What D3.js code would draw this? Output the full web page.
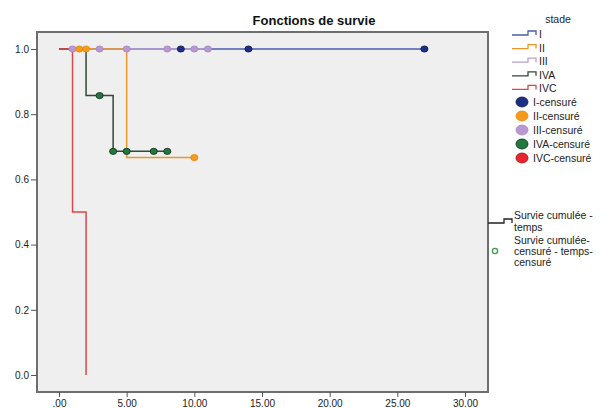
<!DOCTYPE html>
<html>
<head>
<meta charset="utf-8">
<script src="https://cdn.jsdelivr.net/npm/d3@7"></script>
<style>
  body { margin: 0; background: #fff; }
  svg { font-family: "Liberation Sans", Arial, sans-serif; }
  .axis text { font-size: 10px; fill: #222; }
  .axis line { stroke: #555; }
  .legend text { font-size: 10.5px; fill: #222; }
</style>
</head>
<body>
<svg id="chart" width="614" height="408"></svg>
<script>
// stages
var stages = ['I', 'II', 'III', 'IVA', 'IVC'];

// step curves: [time, survival] at each change
var curveI = [[0, 1], [27, 1]];
var curveII = [[0, 1], [5, 0.667], [10, 0.667]];
var curveIII = [[0, 1], [11, 1]];
var curveIVA = [[0, 1], [2, 0.857], [4, 0.686], [8, 0.686]];
var curveIVC = [[0, 1], [1, 0.5], [2, 0]];

// censored times
var censI = [9, 14, 27];
var censII = [1.5, 2, 10];
var censIII = [1, 3, 5, 8, 10, 11];
var censIVA = [3, 4, 5, 7, 8];
var censIVC = [];

var xTicks = [0, 5, 10, 15, 20, 25, 30];
var yTicks = [0, 0.2, 0.4, 0.6, 0.8, 1.0];

var lineColors = ['#4a5ea8', '#e8982a', '#b8a0d4', '#2f4a3a', '#d84a4a'];
var dotColors = ['#1c2f86', '#f59a1a', '#b997d2', '#1e7a3e', '#e8242c'];
var dotStroke = ['#10184a', '#e08a10', '#a688c0', '#0e2a18', '#a01010'];

var frame = { left: 37, right: 488, top: 32, bottom: 392 };

var svg = d3.select('#chart');

var x = d3.scaleLinear().domain([0, 30]).range([59, 465]);
var y = d3.scaleLinear().domain([0, 1]).range([375, 49]);

// plot background
svg.append('rect')
  .attr('x', frame.left)
  .attr('y', frame.top)
  .attr('width', frame.right - frame.left)
  .attr('height', frame.bottom - frame.top)
  .attr('fill', '#efefef')
  .attr('stroke', '#6e6e6e')
  .attr('stroke-width', 2);

// title
svg.append('text')
  .attr('x', 314)
  .attr('y', 25)
  .attr('text-anchor', 'middle')
  .style('font-size', '13px')
  .style('font-weight', 'bold')
  .attr('fill', '#111')
  .text('Fonctions de survie');

// axes
var yAxis = d3.axisLeft(y)
  .tickValues(yTicks)
  .tickFormat(d3.format('.1f'))
  .tickSize(6)
  .tickPadding(2);
svg.append('g')
  .attr('class', 'axis')
  .attr('transform', 'translate(' + frame.left + ',0)')
  .call(yAxis)
  .call(function (g) { g.select('.domain').remove(); });

var xAxis = d3.axisBottom(x)
  .tickValues(xTicks)
  .tickFormat(function (d) { return d === 0 ? '.00' : d3.format('.2f')(d); })
  .tickSize(5)
  .tickPadding(3);
svg.append('g')
  .attr('class', 'axis')
  .attr('transform', 'translate(0,' + frame.bottom + ')')
  .call(xAxis)
  .call(function (g) { g.select('.domain').remove(); });

// curves
var curves = [curveI, curveII, curveIII, curveIVA, curveIVC];
var cens = [censI, censII, censIII, censIVA, censIVC];
var drawOrder = [0, 2, 1, 3, 4];

var line = d3.line()
  .x(function (d) { return x(d[0]); })
  .y(function (d) { return y(d[1]); })
  .curve(d3.curveStepAfter);

function survAt(curve, t) {
  var s = curve[0][1];
  curve.forEach(function (p) { if (p[0] <= t) { s = p[1]; } });
  return s;
}

var plot = svg.append('g');
drawOrder.forEach(function (i) {
  plot.append('path')
    .datum(curves[i])
    .attr('d', line)
    .attr('fill', 'none')
    .attr('stroke', lineColors[i])
    .attr('stroke-width', 1.5);
});

drawOrder.forEach(function (i) {
  plot.selectAll('ellipse.c' + i)
    .data(cens[i])
    .enter()
    .append('ellipse')
    .attr('class', 'c' + i)
    .attr('cx', function (t) { return x(t); })
    .attr('cy', function (t) { return y(survAt(curves[i], t)); })
    .attr('rx', 3.6)
    .attr('ry', 3.1)
    .attr('fill', dotColors[i])
    .attr('stroke', dotStroke[i])
    .attr('stroke-width', 0.8);
});

// legend: stade
var leg = svg.append('g').attr('class', 'legend');
leg.append('text')
  .attr('x', 558)
  .attr('y', 23)
  .attr('text-anchor', 'middle')
  .text('stade');

function stepIcon(g, x0, yb, color) {
  g.append('path')
    .attr('d', 'M' + x0 + ',' + yb + 'h16v-4h8v4')
    .attr('fill', 'none')
    .attr('stroke', color)
    .attr('stroke-width', 1.3);
}

stages.forEach(function (s, i) {
  var yy = 34 + i * 13.6;
  stepIcon(leg, 512, yy + 1, lineColors[i]);
  leg.append('text')
    .attr('x', 539)
    .attr('y', yy + 4)
    .text(s);
});

stages.forEach(function (s, i) {
  var yy = 102 + i * 14;
  leg.append('ellipse')
    .attr('cx', 522)
    .attr('cy', yy)
    .attr('rx', 6)
    .attr('ry', 5)
    .attr('fill', dotColors[i])
    .attr('stroke', dotStroke[i])
    .attr('stroke-width', 0.8);
  leg.append('text')
    .attr('x', 533)
    .attr('y', yy + 4)
    .text(s + '-censuré');
});

// legend: cumulative survival
stepIcon(leg, 488, 223, '#222');
leg.append('text').attr('x', 514).attr('y', 219).text('Survie cumulée -');
leg.append('text').attr('x', 514).attr('y', 231).text('temps');
leg.append('circle')
  .attr('cx', 495)
  .attr('cy', 251)
  .attr('r', 2.6)
  .attr('fill', 'none')
  .attr('stroke', '#3c9a4c')
  .attr('stroke-width', 1.3);
leg.append('text').attr('x', 514).attr('y', 244).text('Survie cumulée-');
leg.append('text').attr('x', 514).attr('y', 255).text('censuré - temps-');
leg.append('text').attr('x', 514).attr('y', 266).text('censuré');
</script>
</body>
</html>
